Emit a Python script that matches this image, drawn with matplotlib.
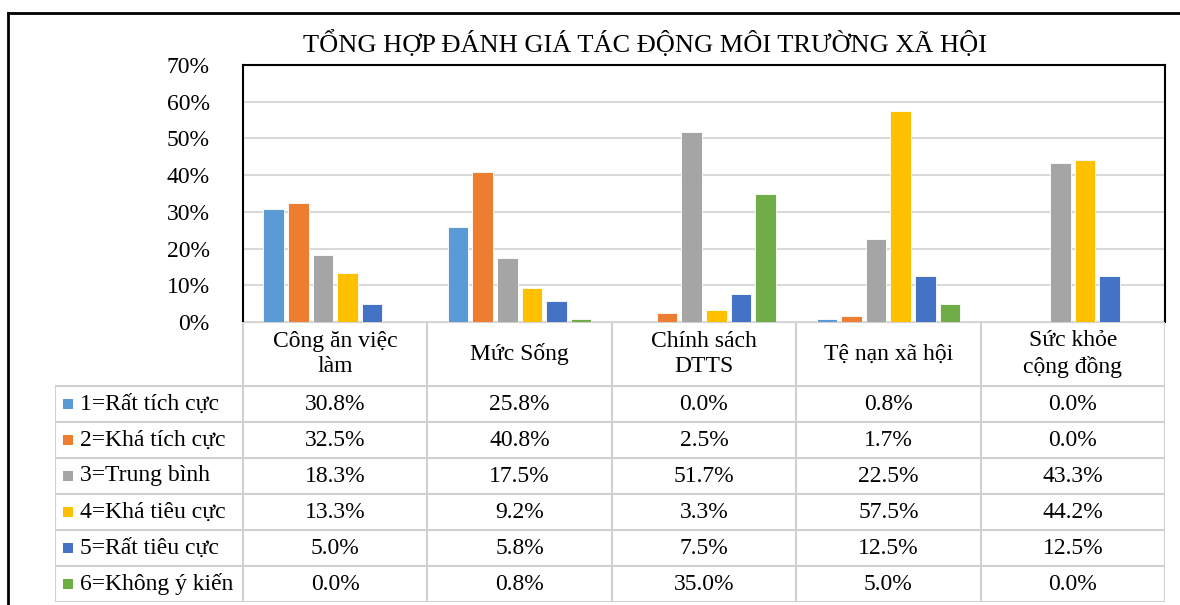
import matplotlib.pyplot as plt
from matplotlib.lines import Line2D
import numpy as np

plt.rcParams['font.family'] = ['Liberation Serif', 'DejaVu Serif']

title = 'TỔNG HỢP ĐÁNH GIÁ TÁC ĐỘNG MÔI TRƯỜNG XÃ HỘI'
categories = ['Công ăn việc\nlàm', 'Mức Sống', 'Chính sách\nDTTS', 'Tệ nạn xã hội', 'Sức khỏe\ncộng đồng']
series_names = ['1=Rất tích cực', '2=Khá tích cực', '3=Trung bình', '4=Khá tiêu cực', '5=Rất tiêu cực', '6=Không ý kiến']
rat_tich_cuc = [30.8, 25.8, 0.0, 0.8, 0.0]
kha_tich_cuc = [32.5, 40.8, 2.5, 1.7, 0.0]
trung_binh = [18.3, 17.5, 51.7, 22.5, 43.3]
kha_tieu_cuc = [13.3, 9.2, 3.3, 57.5, 44.2]
rat_tieu_cuc = [5.0, 5.8, 7.5, 12.5, 12.5]
khong_y_kien = [0.0, 0.8, 35.0, 5.0, 0.0]
yticks = [0, 10, 20, 30, 40, 50, 60, 70]

series = [rat_tich_cuc, kha_tich_cuc, trung_binh, kha_tieu_cuc, rat_tieu_cuc, khong_y_kien]
colors = ['#5B9BD5', '#ED7D31', '#A5A5A5', '#FFC000', '#4472C4', '#70AD47']
grid_c = '#D9D9D9'
fs = 17

fig = plt.figure(figsize=(11.8, 6.05), dpi=100)
W, H = 1180, 605

# bar chart area
ax = fig.add_axes([243 / W, 1 - 322 / H, 922 / W, 257 / H])
n = len(series)
step = 0.1334
x = np.arange(len(categories)) + 0.5
for i, (vals, c) in enumerate(zip(series, colors)):
    ax.bar(x + (i - (n - 1) / 2) * step, vals, width=0.112, color=c,
           edgecolor='white', linewidth=0.6, zorder=3)
ax.set_xlim(0, len(categories))
ax.set_ylim(0, 70)
ax.set_yticks(yticks)
ax.set_yticklabels([f'{t}%' for t in yticks], fontsize=fs)
ax.tick_params(axis='y', length=0, pad=24)
ax.set_xticks([])
ax.grid(axis='y', color=grid_c, linewidth=1.5, zorder=0)
for s in ['top', 'left', 'right']:
    ax.spines[s].set_linewidth(1.5)
    ax.spines[s].set_color('black')
ax.spines['bottom'].set_visible(False)

# data table
tx0 = -188 / 184.4
tax = fig.add_axes([55 / W, 3 / H, 1110 / W, 280 / H])
tax.set_xlim(tx0, len(categories))
hdr = 64 / 36
tax.set_ylim(hdr + len(series), 0)
tax.axis('off')
lc = '#D0D0D0'
lw = 1.5
# horizontal lines
tax.plot([0, len(categories)], [0, 0], color=lc, lw=lw)
for r in range(len(series) + 1):
    tax.plot([tx0, len(categories)], [hdr + r, hdr + r], color=lc, lw=lw)
# vertical lines
for k in range(len(categories) + 1):
    tax.plot([k, k], [0, hdr + len(series)], color=lc, lw=lw)
tax.plot([tx0, tx0], [hdr, hdr + len(series)], color=lc, lw=lw)

for k, cat in enumerate(categories):
    tax.text(k + 0.5, hdr / 2, cat, ha='center', va='center', fontsize=fs, linespacing=1.3)
for r, (name, vals, c) in enumerate(zip(series_names, series, colors)):
    yc = hdr + r + 0.5
    tax.scatter([tx0 + 13 / 184.4], [yc], marker='s', s=52, color=c, linewidths=0)
    tax.text(tx0 + 25 / 184.4, yc, name, ha='left', va='center', fontsize=fs)
    for k, v in enumerate(vals):
        tax.text(k + 0.5, yc, f'{v:.1f}%', ha='center', va='center', fontsize=fs)

fig.text(645 / W, 1 - 44 / H, title, ha='center', va='center', fontsize=19)

# outer chart frame
fig.add_artist(Line2D([8 / W, 8 / W], [0, 1 - 13 / H], color='black', lw=2, transform=fig.transFigure))
fig.add_artist(Line2D([8 / W, 1], [1 - 13 / H, 1 - 13 / H], color='black', lw=2, transform=fig.transFigure))

fig.savefig('out.png', dpi=100, facecolor='white')
